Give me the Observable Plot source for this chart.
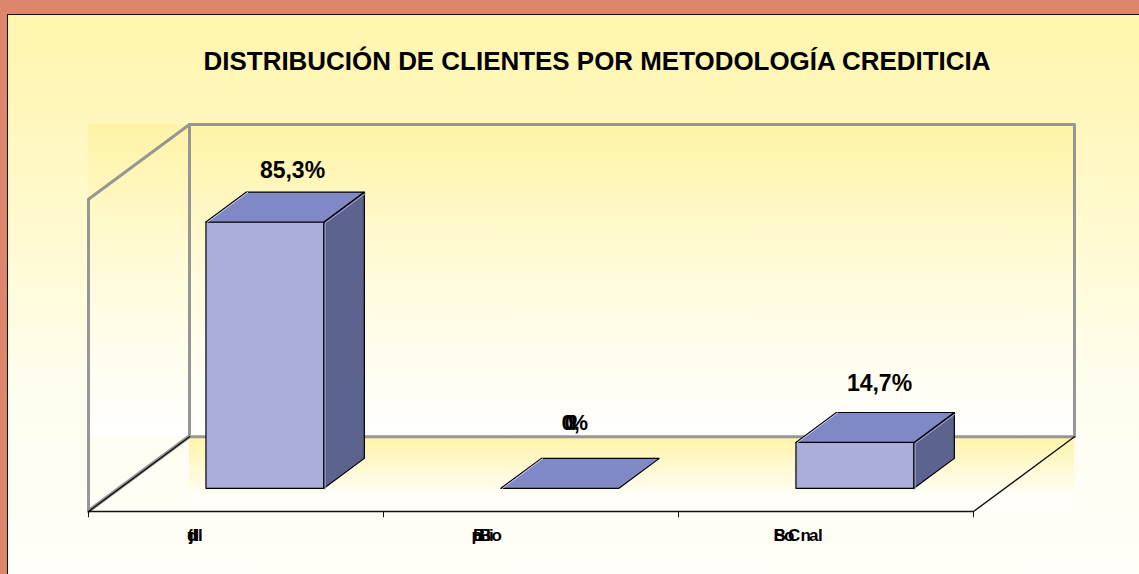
<!DOCTYPE html>
<html lang="es">
<head>
<meta charset="utf-8">
<script src="https://cdn.jsdelivr.net/npm/d3@7"></script>
<script src="https://cdn.jsdelivr.net/npm/@observablehq/plot@0.6"></script>
<style>
html,body{margin:0;padding:0;background:#DC866C;width:1139px;height:574px;overflow:hidden}
#card{position:absolute;left:7px;top:14px;width:1132px;height:560px;border-left:1px solid #111;border-top:1px solid #111;box-sizing:border-box;
background:linear-gradient(180deg,#FFF5AC 0%,#FFF9CC 35%,#FFFDEE 65%,#FFFEF8 100%)}
#title{position:absolute;left:0;top:31px;width:1178px;text-align:center;font:bold 25.95px "Liberation Sans",Arial,sans-serif;color:#000;white-space:nowrap;line-height:30px}
#chart{position:absolute;left:-8px;top:85px}
#chart svg{display:block;background:transparent;overflow:visible}
</style>
</head>
<body>
<div id="card">
  <div id="title">DISTRIBUCIÓN DE CLIENTES POR METODOLOGÍA CREDITICIA</div>
  <div id="chart"></div>
</div>
<script>
// Data
const categoryIndex = [0, 1, 2];
const shareValues = [85.3, 0, 14.7];
const shareLabels = [["85,3%"], ["0,", "0", "%"], ["14,7%"]];
const tickFragments = [["t", "d", "j", "l", "l"], ["p", "B", "B", "i", "i", "o"], ["B", "S", "o", "C", "n", "a", "l"]];

// Oblique projection of the chart's box
const depthX = 101 / 295;
const depthY = 75 / 3.13;
const xMax = 3 + depthX;
const yMax = 100 + depthY;
const barGap = 0.31, barDepth = 0.4, barSide = 0.3, barShift = -0.008;

function project(c, y, d) { return {x: c + depthX * d, y: y + depthY * d}; }
function poly(points, id) { return points.map(p => ({...p, id})); }

const backWall = poly([project(0,0,1), project(3,0,1), project(3,100,1), project(0,100,1), project(0,0,1)], "back");
const leftWall = poly([project(0,0,0), project(0,100,0), project(0,100,1), project(0,0,1), project(0,0,0)], "left");
const leftFloorEdge = poly([project(0,0,1), project(0,0,0)], "lf");
const floorEdge = poly([project(0,0,1), project(0,0,0), project(3,0,0), project(3,0,1)], "floor");

const fronts = [], tops = [], sides = [], sideGlow = [], topGlow = [];
categoryIndex.forEach((i, k) => {
  const v = shareValues[k];
  const c0 = i + barSide + barShift, c1 = i + 1 - barSide + barShift;
  const d0 = barGap, d1 = barGap + barDepth;
  tops.push(...poly([project(c0,v,d0), project(c1,v,d0), project(c1,v,d1), project(c0,v,d1), project(c0,v,d0)], "t" + k));
  topGlow.push(...poly([project(c0,v,d0), project(c0,v,d1)], "tg" + k));
  if (v > 0) {
    fronts.push(...poly([project(c0,0,d0), project(c1,0,d0), project(c1,v,d0), project(c0,v,d0), project(c0,0,d0)], "f" + k));
    sides.push(...poly([project(c1,0,d0), project(c1,0,d1), project(c1,v,d1), project(c1,v,d0), project(c1,0,d0)], "s" + k));
    sideGlow.push(...poly([project(c1,0,d0), project(c1,v,d0), project(c1,v,d1)], "sg" + k));
  }
});

const GRAY = "#969696";
const shapeOpts = (fill) => ({x: "x", y: "y", z: "id", fill, stroke: "#000", strokeWidth: 1.2, strokeLinejoin: "miter", curve: "linear"});

const textStyle = {fontFamily: '"Liberation Sans", Arial, sans-serif', fontWeight: "bold", fill: "#000"};

// Per-label nudges, in pixels from the bar's back-top centre
const valueNudge = [[[5, -21]], [[-21, -35], [-18, -35], [-14, -35]], [[2, -29]]];
// Per-fragment nudges, in pixels from the category centre
const fragmentNudge = [
  [-48.5, -49, -47, -41.5, -38],
  [-59.5, -58, -52, -45, -42, -39.5],
  [-52.5, -52, -42, -38, -25.5, -17, -8]
];

const valueMarks = categoryIndex.flatMap((i, k) => shareLabels[k].map((s, j) =>
  Plot.text([{x: i + 0.5 + depthX * (barGap + barDepth / 2), y: shareValues[k] + depthY * (barGap + barDepth), s}], {
    x: "x", y: "y", text: "s", dx: valueNudge[k][j][0], dy: valueNudge[k][j][1],
    fontSize: shareLabels[k].length > 1 ? 22 : 23, textAnchor: shareLabels[k].length > 1 ? "start" : "middle", ...textStyle
  })
));
const tickMarks = categoryIndex.flatMap((i, k) => tickFragments[k].map((s, j) =>
  Plot.text([{x: i + 0.5, y: 0, s}], {
    x: "x", y: "y", text: "s", dx: fragmentNudge[k][j], dy: 24, fontSize: 17, textAnchor: "start", ...textStyle
  })
));

const chart = Plot.plot({
  width: 1139,
  height: 474,
  marginLeft: 88,
  marginRight: 65,
  marginTop: 24,
  marginBottom: 63,
  x: {domain: [0, xMax], axis: null},
  y: {domain: [0, yMax], axis: null},
  marks: [
    Plot.rect([{}], {x1: 0, x2: xMax, y1: depthY, y2: yMax, fill: "url(#wallGrad)"}),
    Plot.rect([{}], {x1: depthX, x2: xMax, y1: 0, y2: depthY, fill: "url(#floorGrad)"}),
    Plot.line(backWall, {x: "x", y: "y", z: "id", stroke: GRAY, strokeWidth: 3}),
    Plot.line(leftWall, {x: "x", y: "y", z: "id", stroke: GRAY, strokeWidth: 3}),
    Plot.line(leftFloorEdge, {x: "x", y: "y", z: "id", stroke: GRAY, strokeWidth: 3, dy: -1}),
    Plot.line(floorEdge, {x: "x", y: "y", z: "id", stroke: "#111", strokeWidth: 1.4}),
    Plot.ruleX([0, 1, 2, 3], {x: d => d, y1: 0, y2: -2, stroke: "#111", strokeWidth: 1}),
    Plot.line(fronts, shapeOpts("#A9AEDB")),
    Plot.line(sides, shapeOpts("#5C638F")),
    Plot.line(tops, shapeOpts("#8088C6")),
    Plot.line(sideGlow, {x: "x", y: "y", z: "id", stroke: "#A4A9D2", strokeWidth: 1, dx: 1.2, dy: 1.2}),
    Plot.line(topGlow, {x: "x", y: "y", z: "id", stroke: "#C9CCE8", strokeWidth: 1, dx: 1.3, dy: 0.3}),
    ...valueMarks,
    ...tickMarks
  ]
});

const svg = d3.select(chart);
const defs = svg.insert("defs", ":first-child");
const grad = (id, stops) => {
  const g = defs.append("linearGradient").attr("id", id).attr("x1", 0).attr("y1", 0).attr("x2", 0).attr("y2", 1);
  stops.forEach(([o, c, a]) => g.append("stop").attr("offset", o).attr("stop-color", c).attr("stop-opacity", a));
};
grad("wallGrad", [[0, "#FFF3A6", 1], [0.5, "#FFFBDD", 1], [1, "#FFFFFF", 1]]);
grad("floorGrad", [[0, "#FFF3A6", 1], [0.8, "#FFFEF8", 1], [1, "#FFFEF8", 1]]);

document.getElementById("chart").appendChild(chart);
</script>
</body>
</html>
